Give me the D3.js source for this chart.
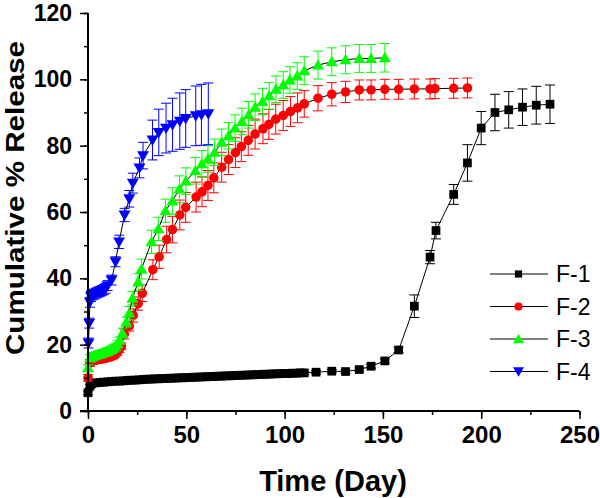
<!DOCTYPE html>
<html>
<head>
<meta charset="utf-8">
<script src="https://cdn.jsdelivr.net/npm/d3@7"></script>
<style>
  html, body { margin: 0; padding: 0; background: #fff; }
  svg { display: block; font-family: "Liberation Sans", Arial, sans-serif; }
</style>
</head>
<body>
<svg id="chart" width="600" height="498"></svg>
<script>
// ---------- DATA ----------
const seriesNames = ["F-1", "F-2", "F-3", "F-4"];
const seriesColors = ["#000000", "#ff0000", "#00ff00", "#0000ff"];

const f1Days = [0,1,2,4,6,8,10,12,14,16,18,20,22,24,26,28,30,32,34,36,38,40,42,44,46,48,50,52,54,56,58,60,62,64,66,68,70,72,74,76,78,80,82,84,86,88,90,92,94,96,98,100,102,104,106,108,110,
  116,124,131,138,144,151,158,166,174,177,186,193,200,207,214,221,228,235];
const f1Vals = [5.5,7.5,8.2,8.5,8.6,8.7,8.8,8.9,9.0,9.0,9.1,9.2,9.3,9.3,9.4,9.5,9.6,9.6,9.7,9.7,9.8,9.8,9.9,9.9,10.0,10.0,10.1,10.1,10.2,10.2,10.3,10.3,10.4,10.4,10.5,10.5,10.6,10.6,10.7,10.7,10.8,10.8,10.9,10.9,11.0,11.0,11.1,11.1,11.2,11.2,11.3,11.3,11.3,11.4,11.4,11.5,11.5,
  11.7,12.0,11.9,12.5,13.5,15.1,18.4,31.6,46.4,54.4,65.3,74.8,85.3,90.0,90.8,91.6,92.2,92.5];
const f1Errs = [0.5,0.5,0.5,0.5,0.5,0.5,0.5,0.5,0.5,0.5,0.5,0.5,0.5,0.5,0.5,0.5,0.5,0.5,0.5,0.5,0.5,0.5,0.5,0.5,0.5,0.5,0.5,0.5,0.5,0.5,0.5,0.5,0.5,0.5,0.5,0.5,0.5,0.5,0.5,0.5,0.5,0.5,0.5,0.5,0.5,0.5,0.5,0.5,0.5,0.5,0.5,0.5,0.5,0.5,0.5,0.5,0.5,
  0.5,0.5,0.5,0.5,0.6,0.6,0.8,3.4,2.0,2.5,3.0,5.5,5.0,5.5,5.5,5.5,5.7,5.8];

const f2Days = [0,1,2,3,4,5,6,7,8,9,10,11,12,13,14,15,16,17,18.5,21,23,25.5,27.6,33,36.2,40,43,46.7,49.7,55,58,61,64,68,71.5,75,78,81.5,85,89,92,95.5,99.3,103,106.6,110,117,124,131,138,144,151,158,166,174,176.5,186,193];
const f2Vals = [10.0,14.5,15.0,15.2,15.4,15.5,15.6,15.7,15.8,16.0,16.1,16.3,16.5,16.8,17.2,17.8,18.6,19.5,23.2,25.6,28.8,32.4,35.5,42.6,46.5,51.7,54.7,59.1,61.4,64.5,66.1,68.0,70.3,73.5,75.8,77.9,79.7,81.6,83.5,85.1,86.4,88.0,89.1,90.3,91.4,92.6,94.3,95.5,96.2,96.8,96.8,97.0,97.0,97.1,97.1,97.2,97.3,97.4];
const f2Errs = [1,1,1,1,1,1,1,1,1,1,1,1,1,1,1,1,1,1,1.5,1.5,2,2,2.5,3,3.5,4,4,4.5,4.5,4.5,4.5,4.5,4.5,4.5,4.5,4.5,4.5,4.5,4.5,4.5,4.5,4.5,4.5,4.5,4.5,4,3.8,3.5,3.2,3,3,3,3,3,3,3,3,3];

const f3Days = [0,1,2,3,4,5,6,7,8,9,10,11,12,13,14,15,16,17.5,19.5,21,22.6,25.5,27.2,32.3,35.8,39.4,42.9,46.5,49.8,54.6,57.9,61,64.4,68,71.5,74.8,78.3,81.7,85,88.8,92.2,95.6,99.3,102.7,106.4,110,117,124,131,138,144,151];
const f3Vals = [13.0,16.0,16.3,16.6,16.8,17.0,17.2,17.4,17.6,17.8,18.0,18.3,18.6,19.0,19.5,20.3,21.3,23.5,26.8,29.5,34.0,38.9,42.8,51.0,54.9,60.4,63.3,66.9,69.3,72.4,74.5,76.0,78.0,81.0,83.0,85.3,87.3,89.3,91.6,93.3,95.0,97.0,98.3,99.8,101.0,102.6,104.3,105.3,105.9,106.3,106.3,106.5];
const f3Errs = [1,1,1,1,1,1,1,1,1,1,1,1,1,1,1,1,1,1.5,1.5,2,2,2.5,3,3.5,3.5,3.5,4,4,4,4,4,4,4,4,4,4,4,4,4,4,4,4,4,4,4,4.2,4.2,4.2,4.2,4.2,4.2,4.3];

const f4Days = [0.3,0.6,1,1.5,2,3,4,5,6,7,8,9,10,12,14,15.8,18.6,21,22.8,26.2,28,32.8,36,39.7,43,46.7,49.7,54.8,57.7,61.2];
const f4Vals = [20.5,26.5,32.8,34.5,35.0,35.2,35.5,35.8,36.0,36.3,36.6,37.0,37.8,39.5,45.0,51.0,59.1,64.0,68.7,73.3,77.0,81.7,84.0,85.3,86.3,87.4,88.2,89.0,89.3,89.6];
const f4Errs = [1.5,1.5,1.5,1.5,1.5,1.5,1.5,1.5,1.5,1.5,1.5,1.5,1.5,1.5,1.5,2,2,2.5,3,3,4,6,7,7.5,8,8.5,8.7,9,9.2,9.3];

const xTicks = [0, 50, 100, 150, 200, 250];
const yTicks = [0, 20, 40, 60, 80, 100, 120];
const xTitle = "Time (Day)";
const yTitle = "Cumulative % Release";

// ---------- BUILD ----------
const seriesDays = [f1Days, f2Days, f3Days, f4Days];
const seriesVals = [f1Vals, f2Vals, f3Vals, f4Vals];
const seriesErrs = [f1Errs, f2Errs, f3Errs, f4Errs];
const series = seriesNames.map((name, i) => ({
  name, color: seriesColors[i], idx: i,
  pts: seriesDays[i].map((d, j) => ({ x: d, y: seriesVals[i][j], e: seriesErrs[i][j] }))
}));

const svg = d3.select("#chart");
const mLeft = 88, mRight = 579.5, mTop = 13, mBottom = 411;
const x = d3.scaleLinear().domain([0, 250]).range([mLeft, mRight]);
const y = d3.scaleLinear().domain([0, 120]).range([mBottom, mTop]);

function markerPath(i, size) {
  const types = [d3.symbolSquare, d3.symbolCircle, d3.symbolTriangle, d3.symbolTriangle];
  return d3.symbol().type(types[i]).size(size)();
}
const markerSizes = [76, 72, 62, 62];

// series
const lineGen = d3.line().x(d => x(d.x)).y(d => y(d.y));
series.forEach(s => {
  const g = svg.append("g");
  const eb = g.append("g").attr("stroke", s.color).attr("stroke-width", 1).attr("fill", "none");
  s.pts.forEach(p => {
    const cx = x(p.x), y1 = y(p.y + p.e), y2 = y(p.y - p.e);
    eb.append("line").attr("x1", cx).attr("x2", cx).attr("y1", y1).attr("y2", y2);
    eb.append("line").attr("x1", cx - 5).attr("x2", cx + 5).attr("y1", y1).attr("y2", y1);
    eb.append("line").attr("x1", cx - 5).attr("x2", cx + 5).attr("y1", y2).attr("y2", y2);
  });
  g.append("path").datum(s.pts).attr("d", lineGen)
    .attr("fill", "none").attr("stroke", "#000").attr("stroke-width", 1);
  g.selectAll("path.m").data(s.pts).enter().append("path").attr("class", "m")
    .attr("d", markerPath(s.idx, markerSizes[s.idx]))
    .attr("transform", d => `translate(${x(d.x)},${y(d.y) + (s.idx === 2 ? 1 : s.idx === 3 ? -1 : 0)})` + (s.idx === 3 ? " rotate(180)" : ""))
    .attr("fill", s.color);
});

// axes
const xAxisG = svg.append("g").attr("transform", `translate(0,${mBottom})`);
xAxisG.call(d3.axisBottom(x).tickValues(d3.range(0, 251, 25)).tickSize(4).tickFormat(""));
xAxisG.selectAll(".tick line").attr("stroke-width", 1.5);
xAxisG.select(".domain").attr("stroke-width", 2).attr("d", `M${mLeft - 8},0H${mRight}`);
const xMajor = svg.append("g").attr("transform", `translate(0,${mBottom})`);
xMajor.call(d3.axisBottom(x).tickValues(xTicks).tickSize(8).tickPadding(7).tickFormat(d3.format("d")));
xMajor.select(".domain").remove();
xMajor.selectAll(".tick line").attr("stroke-width", 1.5);
xMajor.selectAll("text").attr("font-size", 24).attr("font-weight", "bold")
  .attr("font-family", "Liberation Sans, Arial, sans-serif").attr("fill", "#000");

const yAxisG = svg.append("g").attr("transform", `translate(${mLeft},0)`);
yAxisG.call(d3.axisLeft(y).tickValues(d3.range(0, 121, 10)).tickSize(4).tickFormat(""));
yAxisG.selectAll(".tick line").attr("stroke-width", 1.5);
yAxisG.select(".domain").attr("stroke-width", 2).attr("d", `M0,${mTop}V${mBottom}`);
const yMajor = svg.append("g").attr("transform", `translate(${mLeft},0)`);
yMajor.call(d3.axisLeft(y).tickValues(yTicks).tickSize(8).tickPadding(8).tickFormat(d3.format("d")));
yMajor.select(".domain").remove();
yMajor.selectAll(".tick line").attr("stroke-width", 1.5);
yMajor.selectAll("text").attr("font-size", 23).attr("font-weight", "bold")
  .attr("font-family", "Liberation Sans, Arial, sans-serif").attr("fill", "#000");

// titles
svg.append("text").attr("x", 333).attr("y", 491).attr("text-anchor", "middle")
  .attr("font-size", 29).attr("font-weight", "bold").text(xTitle);
svg.append("text").attr("transform", `translate(24,198) rotate(-90)`).attr("text-anchor", "middle")
  .attr("font-size", 26).attr("font-weight", "bold")
  .attr("textLength", 314).attr("lengthAdjust", "spacingAndGlyphs").text(yTitle);

// legend
const legY = [274, 306.5, 339, 371.5];
series.forEach((s, i) => {
  const g = svg.append("g").attr("transform", `translate(0,${legY[i]})`);
  g.append("line").attr("x1", 490).attr("x2", 548).attr("y1", 0).attr("y2", 0)
    .attr("stroke", "#000").attr("stroke-width", 1);
  g.append("path").attr("d", markerPath(i, 52))
    .attr("transform", `translate(518.5,${i === 2 ? 1 : i === 3 ? -1 : 0})` + (i === 3 ? " rotate(180)" : ""))
    .attr("fill", s.color);
  g.append("text").attr("x", 556).attr("y", 0).attr("dy", "0.36em")
    .attr("font-size", 23).text(s.name);
});
</script>
</body>
</html>
